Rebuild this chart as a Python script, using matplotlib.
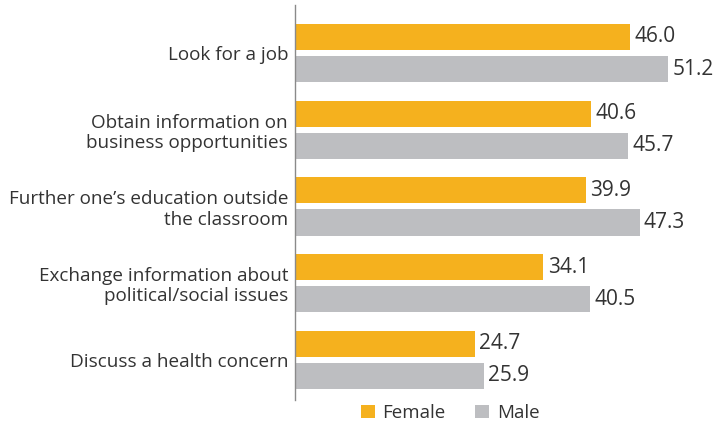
import numpy as np
import matplotlib.pyplot as plt

plt.rcParams['font.family'] = ['Open Sans', 'DejaVu Sans']

# Datos
categories = ["Look for a job",
              "Obtain information on\nbusiness opportunities",
              "Further one\u2019s education outside\nthe classroom",
              "Exchange information about\npolitical/social issues",
              "Discuss a health concern"]
female = [46.0, 40.6, 39.9, 34.1, 24.7]
male = [51.2, 45.7, 47.3, 40.5, 25.9]

orange = '#F5B11E'
grey = '#BDBEC1'
text_col = '#333333'

fig = plt.figure(figsize=(7.13, 4.28), dpi=100)
ax = fig.add_axes([295 / 713, 1 - 400 / 428, 408 / 713, 395 / 428])

y = np.arange(len(categories))
off = 0.21
h = 0.34
bf = ax.barh(y - off, female, height=h, color=orange, label='Female')
bm = ax.barh(y + off, male, height=h, color=grey, label='Male')

# Etiquetas de valores
for yi, v in zip(y - off, female):
    ax.text(v + 0.6, yi, f"{v:.1f}", va='center', ha='left', fontsize=15, color=text_col)
for yi, v in zip(y + off, male):
    ax.text(v + 0.6, yi, f"{v:.1f}", va='center', ha='left', fontsize=15, color=text_col)

ax.set_xlim(0, 56)
ax.set_ylim(4.524, -0.626)
ax.set_yticks(y)
ax.set_yticklabels(categories, fontsize=13.6, color=text_col, linespacing=1.15)
ax.tick_params(axis='y', length=0, pad=5)
ax.set_xticks([])
for s in ['top', 'right', 'bottom']:
    ax.spines[s].set_visible(False)
ax.spines['left'].set_color('#8a8a8a')
ax.spines['left'].set_linewidth(1)

fig.legend(handles=[bf, bm], labels=['Female', 'Male'], loc='center',
           bbox_to_anchor=(450 / 713, 1 - 413 / 428), ncol=2, frameon=False,
           handlelength=0.75, handleheight=0.75, handletextpad=0.4, columnspacing=1.6,
           prop={'size': 13.5}, labelcolor=text_col)

fig.savefig('out.png', dpi=100)
